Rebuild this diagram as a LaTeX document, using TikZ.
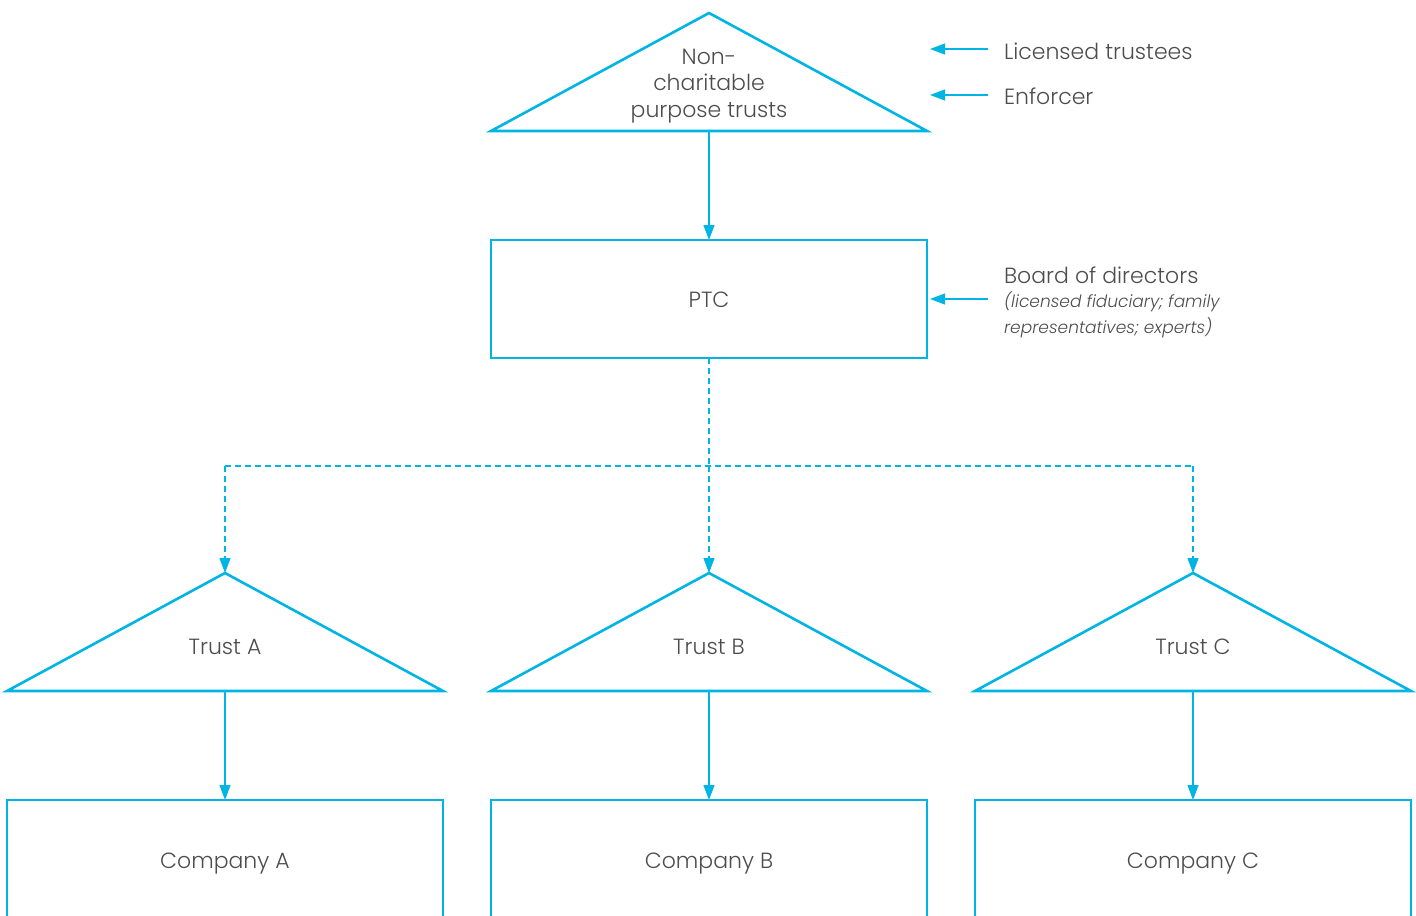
\documentclass[tikz,border=0pt]{standalone}
\usepackage{fontspec}
\setmainfont{Poppins}[UprightFont=* Light, ItalicFont=* Light Italic]
\usetikzlibrary{arrows.meta}
\definecolor{ptcblue}{HTML}{00B4E4}
\definecolor{ptcgrey}{HTML}{4D4D4D}

\begin{document}
\begin{tikzpicture}[x=0.5pt,y=-0.5pt,
    every node/.style={text=ptcgrey,font=\fontsize{11}{13.3}\selectfont,align=center},
    frame/.style={draw=ptcblue,line width=1.3pt},
    link/.style={draw=ptcblue,line width=0.6pt,-{Triangle[length=7.5pt,width=5.5pt]}},
    dashlink/.style={link,dash pattern=on 3pt off 2pt},
    note/.style={anchor=west,align=left}]

    \clip (0,0) rectangle (1416,915);

    % purpose trust on top
    \draw[frame] (709,13) -- (927,131) -- (491,131) -- cycle;
    \coordinate (ncttop) at (709,13);
    \coordinate (nctbase) at (709,131);
    \node (nct) at (709,86) {Non-\\charitable\\purpose trusts};

    % PTC
    \draw[frame] (491,240) rectangle (927,358);
    \coordinate (ptctop) at (709,240);
    \coordinate (ptcbottom) at (709,358);
    \node (ptc) at (709,300) {PTC};

    % notes on the right
    \node[note] (lic) at (997,51) {Licensed trustees};
    \node[note] (enf) at (997,96) {Enforcer};
    \node[note] (board) at (997,275) {Board of directors};
    \node[note,font=\fontsize{8.5}{13}\selectfont\itshape] (boardsub) at (997,315) {(licensed fiduciary; family\\representatives; experts)};

    \draw[link] (988,49) -- (930,49);
    \draw[link] (988,95) -- (930,95);
    \draw[link] (988,299) -- (930,299);

    \draw[link] (nctbase) -- (ptctop);

    % the three trusts and companies
    \coordinate (split) at (709,466);
    \draw[dashlink,-] (ptcbottom) -- (split);
    \draw[dashlink,-] (225,466) -- (1193,466);
    \foreach \x/\n in {225/A,709/B,1193/C}{
        \draw[frame] (\x,573) -- ++(218,118) -- ++(-436,0) -- cycle;
        \coordinate (trust\n top) at (\x,573);
        \coordinate (trust\n base) at (\x,691);
        \node (trust\n) at (\x,647) {Trust \n};
        \draw[frame] (\x-218,800) rectangle (\x+218,960);
        \coordinate (comp\n top) at (\x,800);
        \node (comp\n) at (\x,864) {Company \n};
        \draw[dashlink] (\x,466) -- (trust\n top);
        \draw[link] (trust\n base) -- (comp\n top);
    }
\end{tikzpicture}
\end{document}
